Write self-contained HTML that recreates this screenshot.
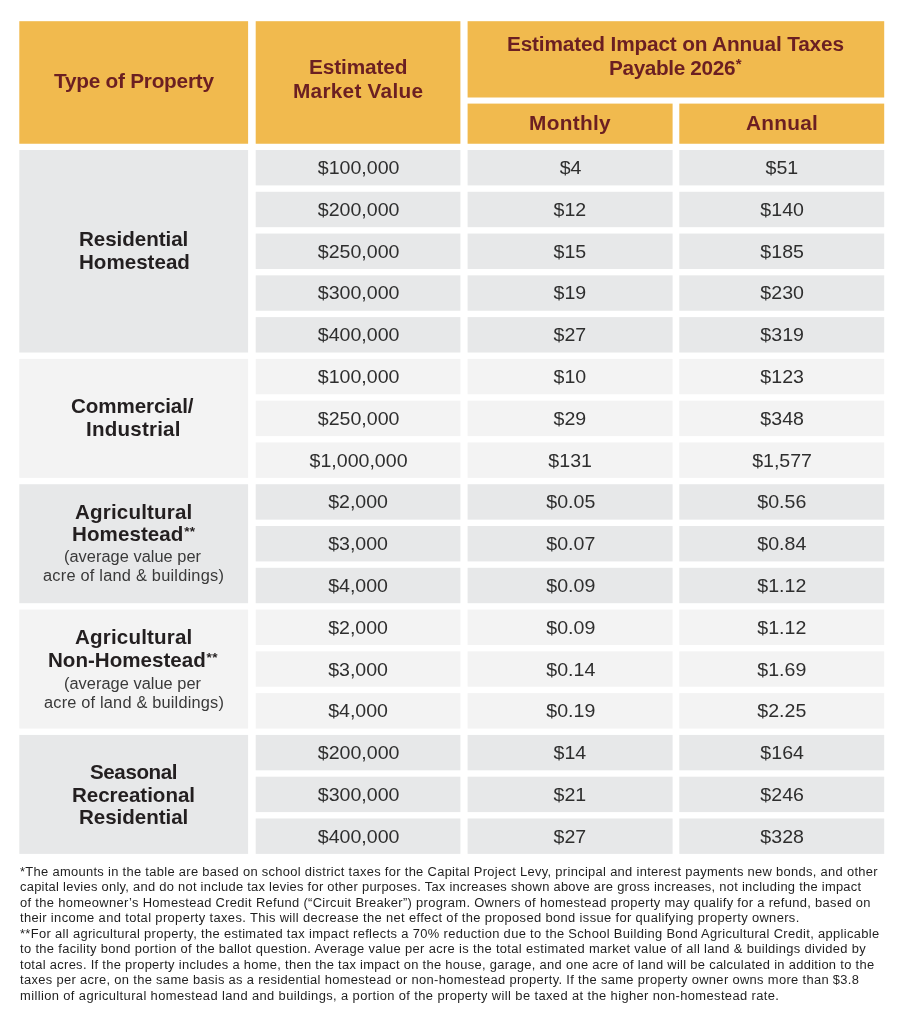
<!DOCTYPE html>
<html lang="en"><head><meta charset="utf-8"><title>Estimated Tax Impact</title>
<style>
html,body{margin:0;padding:0;background:#fff;}
body{width:902px;height:1024px;position:relative;overflow:hidden;font-family:"Liberation Sans",sans-serif;color:#2b2b2b;}
.c{position:absolute;display:flex;align-items:center;justify-content:center;text-align:center;box-sizing:border-box;}
.d{font-size:19px;letter-spacing:0px;padding-left:0.4px;padding-top:0.9px;color:#2e2e2e;}
.t{position:absolute;white-space:nowrap;line-height:24px;height:24px;transform-origin:0 50%;}
.hb,.gb{transform:scaleX(1.04);}
.gs,.f{transform:scaleX(1.05);}
.d span{display:inline-block;transform:scaleX(1.03);}
.hb{color:#6b1f22;font-weight:bold;font-size:20.0px;}
.gb{color:#231f20;font-weight:bold;font-size:19.8px;}
.gs{color:#3a3a3a;font-size:15.6px;}
sup{font-size:66%;line-height:0;vertical-align:baseline;position:relative;top:-0.36em;letter-spacing:0.4px;margin-left:0.7px;}
.hb sup{font-size:72%;top:-0.42em;}
.f{position:absolute;left:19.7px;white-space:nowrap;transform-origin:0 50%;font-size:12.3px;line-height:16px;height:16px;color:#1f1f1f;}
</style></head><body>

<svg width="902" height="1024" viewBox="0 0 902 1024" style="position:absolute;left:0;top:0" aria-hidden="true"><rect x="19.30" y="21.20" width="228.80" height="122.55" fill="#f1ba4e"/><rect x="255.70" y="21.20" width="204.70" height="122.55" fill="#f1ba4e"/><rect x="467.60" y="21.20" width="416.60" height="76.30" fill="#f1ba4e"/><rect x="467.60" y="103.60" width="205.00" height="40.15" fill="#f1ba4e"/><rect x="679.30" y="103.60" width="204.90" height="40.15" fill="#f1ba4e"/><rect x="19.30" y="150.00" width="228.80" height="202.52" fill="#e7e8e9"/><rect x="255.70" y="150.00" width="204.70" height="35.40" fill="#e7e8e9"/><rect x="467.60" y="150.00" width="205.00" height="35.40" fill="#e7e8e9"/><rect x="679.30" y="150.00" width="204.90" height="35.40" fill="#e7e8e9"/><rect x="255.70" y="191.78" width="204.70" height="35.40" fill="#e7e8e9"/><rect x="467.60" y="191.78" width="205.00" height="35.40" fill="#e7e8e9"/><rect x="679.30" y="191.78" width="204.90" height="35.40" fill="#e7e8e9"/><rect x="255.70" y="233.56" width="204.70" height="35.40" fill="#e7e8e9"/><rect x="467.60" y="233.56" width="205.00" height="35.40" fill="#e7e8e9"/><rect x="679.30" y="233.56" width="204.90" height="35.40" fill="#e7e8e9"/><rect x="255.70" y="275.34" width="204.70" height="35.40" fill="#e7e8e9"/><rect x="467.60" y="275.34" width="205.00" height="35.40" fill="#e7e8e9"/><rect x="679.30" y="275.34" width="204.90" height="35.40" fill="#e7e8e9"/><rect x="255.70" y="317.12" width="204.70" height="35.40" fill="#e7e8e9"/><rect x="467.60" y="317.12" width="205.00" height="35.40" fill="#e7e8e9"/><rect x="679.30" y="317.12" width="204.90" height="35.40" fill="#e7e8e9"/><rect x="19.30" y="358.90" width="228.80" height="118.96" fill="#f3f3f3"/><rect x="255.70" y="358.90" width="204.70" height="35.40" fill="#f3f3f3"/><rect x="467.60" y="358.90" width="205.00" height="35.40" fill="#f3f3f3"/><rect x="679.30" y="358.90" width="204.90" height="35.40" fill="#f3f3f3"/><rect x="255.70" y="400.68" width="204.70" height="35.40" fill="#f3f3f3"/><rect x="467.60" y="400.68" width="205.00" height="35.40" fill="#f3f3f3"/><rect x="679.30" y="400.68" width="204.90" height="35.40" fill="#f3f3f3"/><rect x="255.70" y="442.46" width="204.70" height="35.40" fill="#f3f3f3"/><rect x="467.60" y="442.46" width="205.00" height="35.40" fill="#f3f3f3"/><rect x="679.30" y="442.46" width="204.90" height="35.40" fill="#f3f3f3"/><rect x="19.30" y="484.24" width="228.80" height="118.96" fill="#e7e8e9"/><rect x="255.70" y="484.24" width="204.70" height="35.40" fill="#e7e8e9"/><rect x="467.60" y="484.24" width="205.00" height="35.40" fill="#e7e8e9"/><rect x="679.30" y="484.24" width="204.90" height="35.40" fill="#e7e8e9"/><rect x="255.70" y="526.02" width="204.70" height="35.40" fill="#e7e8e9"/><rect x="467.60" y="526.02" width="205.00" height="35.40" fill="#e7e8e9"/><rect x="679.30" y="526.02" width="204.90" height="35.40" fill="#e7e8e9"/><rect x="255.70" y="567.80" width="204.70" height="35.40" fill="#e7e8e9"/><rect x="467.60" y="567.80" width="205.00" height="35.40" fill="#e7e8e9"/><rect x="679.30" y="567.80" width="204.90" height="35.40" fill="#e7e8e9"/><rect x="19.30" y="609.58" width="228.80" height="118.96" fill="#f3f3f3"/><rect x="255.70" y="609.58" width="204.70" height="35.40" fill="#f3f3f3"/><rect x="467.60" y="609.58" width="205.00" height="35.40" fill="#f3f3f3"/><rect x="679.30" y="609.58" width="204.90" height="35.40" fill="#f3f3f3"/><rect x="255.70" y="651.36" width="204.70" height="35.40" fill="#f3f3f3"/><rect x="467.60" y="651.36" width="205.00" height="35.40" fill="#f3f3f3"/><rect x="679.30" y="651.36" width="204.90" height="35.40" fill="#f3f3f3"/><rect x="255.70" y="693.14" width="204.70" height="35.40" fill="#f3f3f3"/><rect x="467.60" y="693.14" width="205.00" height="35.40" fill="#f3f3f3"/><rect x="679.30" y="693.14" width="204.90" height="35.40" fill="#f3f3f3"/><rect x="19.30" y="734.92" width="228.80" height="118.96" fill="#e7e8e9"/><rect x="255.70" y="734.92" width="204.70" height="35.40" fill="#e7e8e9"/><rect x="467.60" y="734.92" width="205.00" height="35.40" fill="#e7e8e9"/><rect x="679.30" y="734.92" width="204.90" height="35.40" fill="#e7e8e9"/><rect x="255.70" y="776.70" width="204.70" height="35.40" fill="#e7e8e9"/><rect x="467.60" y="776.70" width="205.00" height="35.40" fill="#e7e8e9"/><rect x="679.30" y="776.70" width="204.90" height="35.40" fill="#e7e8e9"/><rect x="255.70" y="818.48" width="204.70" height="35.40" fill="#e7e8e9"/><rect x="467.60" y="818.48" width="205.00" height="35.40" fill="#e7e8e9"/><rect x="679.30" y="818.48" width="204.90" height="35.40" fill="#e7e8e9"/></svg>
<div class="c h" style="left:19.30px;top:21.20px;width:228.80px;height:122.55px"></div>
<div class="c h" style="left:255.70px;top:21.20px;width:204.70px;height:122.55px"></div>
<div class="c h" style="left:467.60px;top:21.20px;width:416.60px;height:76.30px"></div>
<div class="c h" style="left:467.60px;top:103.60px;width:205.00px;height:40.15px"></div>
<div class="c h" style="left:679.30px;top:103.60px;width:204.90px;height:40.15px"></div>
<div class="c g" style="left:19.30px;top:150.00px;width:228.80px;height:202.52px"></div>
<div class="c d" style="left:255.70px;top:150.00px;width:204.70px;height:35.40px"><span>$100,000</span></div>
<div class="c d" style="left:467.60px;top:150.00px;width:205.00px;height:35.40px"><span>$4</span></div>
<div class="c d" style="left:679.30px;top:150.00px;width:204.90px;height:35.40px"><span>$51</span></div>
<div class="c d" style="left:255.70px;top:191.78px;width:204.70px;height:35.40px"><span>$200,000</span></div>
<div class="c d" style="left:467.60px;top:191.78px;width:205.00px;height:35.40px"><span>$12</span></div>
<div class="c d" style="left:679.30px;top:191.78px;width:204.90px;height:35.40px"><span>$140</span></div>
<div class="c d" style="left:255.70px;top:233.56px;width:204.70px;height:35.40px"><span>$250,000</span></div>
<div class="c d" style="left:467.60px;top:233.56px;width:205.00px;height:35.40px"><span>$15</span></div>
<div class="c d" style="left:679.30px;top:233.56px;width:204.90px;height:35.40px"><span>$185</span></div>
<div class="c d" style="left:255.70px;top:275.34px;width:204.70px;height:35.40px"><span>$300,000</span></div>
<div class="c d" style="left:467.60px;top:275.34px;width:205.00px;height:35.40px"><span>$19</span></div>
<div class="c d" style="left:679.30px;top:275.34px;width:204.90px;height:35.40px"><span>$230</span></div>
<div class="c d" style="left:255.70px;top:317.12px;width:204.70px;height:35.40px"><span>$400,000</span></div>
<div class="c d" style="left:467.60px;top:317.12px;width:205.00px;height:35.40px"><span>$27</span></div>
<div class="c d" style="left:679.30px;top:317.12px;width:204.90px;height:35.40px"><span>$319</span></div>
<div class="c g" style="left:19.30px;top:358.90px;width:228.80px;height:118.96px"></div>
<div class="c d" style="left:255.70px;top:358.90px;width:204.70px;height:35.40px"><span>$100,000</span></div>
<div class="c d" style="left:467.60px;top:358.90px;width:205.00px;height:35.40px"><span>$10</span></div>
<div class="c d" style="left:679.30px;top:358.90px;width:204.90px;height:35.40px"><span>$123</span></div>
<div class="c d" style="left:255.70px;top:400.68px;width:204.70px;height:35.40px"><span>$250,000</span></div>
<div class="c d" style="left:467.60px;top:400.68px;width:205.00px;height:35.40px"><span>$29</span></div>
<div class="c d" style="left:679.30px;top:400.68px;width:204.90px;height:35.40px"><span>$348</span></div>
<div class="c d" style="left:255.70px;top:442.46px;width:204.70px;height:35.40px"><span>$1,000,000</span></div>
<div class="c d" style="left:467.60px;top:442.46px;width:205.00px;height:35.40px"><span>$131</span></div>
<div class="c d" style="left:679.30px;top:442.46px;width:204.90px;height:35.40px"><span>$1,577</span></div>
<div class="c g" style="left:19.30px;top:484.24px;width:228.80px;height:118.96px"></div>
<div class="c d" style="left:255.70px;top:484.24px;width:204.70px;height:35.40px"><span>$2,000</span></div>
<div class="c d" style="left:467.60px;top:484.24px;width:205.00px;height:35.40px"><span>$0.05</span></div>
<div class="c d" style="left:679.30px;top:484.24px;width:204.90px;height:35.40px"><span>$0.56</span></div>
<div class="c d" style="left:255.70px;top:526.02px;width:204.70px;height:35.40px"><span>$3,000</span></div>
<div class="c d" style="left:467.60px;top:526.02px;width:205.00px;height:35.40px"><span>$0.07</span></div>
<div class="c d" style="left:679.30px;top:526.02px;width:204.90px;height:35.40px"><span>$0.84</span></div>
<div class="c d" style="left:255.70px;top:567.80px;width:204.70px;height:35.40px"><span>$4,000</span></div>
<div class="c d" style="left:467.60px;top:567.80px;width:205.00px;height:35.40px"><span>$0.09</span></div>
<div class="c d" style="left:679.30px;top:567.80px;width:204.90px;height:35.40px"><span>$1.12</span></div>
<div class="c g" style="left:19.30px;top:609.58px;width:228.80px;height:118.96px"></div>
<div class="c d" style="left:255.70px;top:609.58px;width:204.70px;height:35.40px"><span>$2,000</span></div>
<div class="c d" style="left:467.60px;top:609.58px;width:205.00px;height:35.40px"><span>$0.09</span></div>
<div class="c d" style="left:679.30px;top:609.58px;width:204.90px;height:35.40px"><span>$1.12</span></div>
<div class="c d" style="left:255.70px;top:651.36px;width:204.70px;height:35.40px"><span>$3,000</span></div>
<div class="c d" style="left:467.60px;top:651.36px;width:205.00px;height:35.40px"><span>$0.14</span></div>
<div class="c d" style="left:679.30px;top:651.36px;width:204.90px;height:35.40px"><span>$1.69</span></div>
<div class="c d" style="left:255.70px;top:693.14px;width:204.70px;height:35.40px"><span>$4,000</span></div>
<div class="c d" style="left:467.60px;top:693.14px;width:205.00px;height:35.40px"><span>$0.19</span></div>
<div class="c d" style="left:679.30px;top:693.14px;width:204.90px;height:35.40px"><span>$2.25</span></div>
<div class="c g" style="left:19.30px;top:734.92px;width:228.80px;height:118.96px"></div>
<div class="c d" style="left:255.70px;top:734.92px;width:204.70px;height:35.40px"><span>$200,000</span></div>
<div class="c d" style="left:467.60px;top:734.92px;width:205.00px;height:35.40px"><span>$14</span></div>
<div class="c d" style="left:679.30px;top:734.92px;width:204.90px;height:35.40px"><span>$164</span></div>
<div class="c d" style="left:255.70px;top:776.70px;width:204.70px;height:35.40px"><span>$300,000</span></div>
<div class="c d" style="left:467.60px;top:776.70px;width:205.00px;height:35.40px"><span>$21</span></div>
<div class="c d" style="left:679.30px;top:776.70px;width:204.90px;height:35.40px"><span>$246</span></div>
<div class="c d" style="left:255.70px;top:818.48px;width:204.70px;height:35.40px"><span>$400,000</span></div>
<div class="c d" style="left:467.60px;top:818.48px;width:205.00px;height:35.40px"><span>$27</span></div>
<div class="c d" style="left:679.30px;top:818.48px;width:204.90px;height:35.40px"><span>$328</span></div>
<div class="t hb" id="h1" style="left:54.00px;top:68.70px;letter-spacing:-0.240px">Type of Property</div>
<div class="t hb" id="h2a" style="left:308.70px;top:55.30px;letter-spacing:-0.112px">Estimated</div>
<div class="t hb" id="h2b" style="left:293.30px;top:78.50px;letter-spacing:0.245px">Market Value</div>
<div class="t hb" id="h3a" style="left:507.40px;top:32.20px;letter-spacing:-0.160px">Estimated Impact on Annual Taxes</div>
<div class="t hb" id="h3b" style="left:609.10px;top:55.60px;letter-spacing:-0.368px">Payable 2026<sup>*</sup></div>
<div class="t hb" id="h4" style="left:529.10px;top:111.20px;letter-spacing:0.300px">Monthly</div>
<div class="t hb" id="h5" style="left:745.60px;top:111.00px;letter-spacing:0.270px">Annual</div>
<div class="t gb" id="g0a" style="left:79.00px;top:227.10px;letter-spacing:-0.045px">Residential</div>
<div class="t gb" id="g0b" style="left:79.40px;top:250.40px;letter-spacing:-0.000px">Homestead</div>
<div class="t gb" id="g1a" style="left:71.10px;top:393.80px;letter-spacing:-0.090px">Commercial/</div>
<div class="t gb" id="g1b" style="left:86.10px;top:416.90px;letter-spacing:0.200px">Industrial</div>
<div class="t gb" id="g2a" style="left:75.20px;top:500.00px;letter-spacing:0.164px">Agricultural</div>
<div class="t gb" id="g2b" style="left:71.60px;top:522.20px;letter-spacing:0.056px">Homestead<sup>**</sup></div>
<div class="t gs" id="g2c" style="left:64.40px;top:545.40px;letter-spacing:0.026px">(average value per</div>
<div class="t gs" id="g2d" style="left:43.40px;top:563.80px;letter-spacing:0.206px">acre of land &amp; buildings)</div>
<div class="t gb" id="g3a" style="left:75.20px;top:625.00px;letter-spacing:0.164px">Agricultural</div>
<div class="t gb" id="g3b" style="left:47.80px;top:647.70px;letter-spacing:0.000px">Non-Homestead<sup>**</sup></div>
<div class="t gs" id="g3c" style="left:64.40px;top:672.00px;letter-spacing:0.026px">(average value per</div>
<div class="t gs" id="g3d" style="left:44.30px;top:690.90px;letter-spacing:0.169px">acre of land &amp; buildings)</div>
<div class="t gb" id="g4a" style="left:90.20px;top:759.60px;letter-spacing:-0.386px">Seasonal</div>
<div class="t gb" id="g4b" style="left:71.80px;top:782.50px;letter-spacing:-0.041px">Recreational</div>
<div class="t gb" id="g4c" style="left:78.90px;top:805.40px;letter-spacing:-0.045px">Residential</div>
<div class="f" style="top:863.90px;letter-spacing:0.295px">*The amounts in the table are based on school district taxes for the Capital Project Levy, principal and interest payments new bonds, and other</div>
<div class="f" style="top:879.40px;letter-spacing:0.255px">capital levies only, and do not include tax levies for other purposes. Tax increases shown above are gross increases, not including the impact</div>
<div class="f" style="top:894.90px;letter-spacing:0.310px">of the homeowner’s Homestead Credit Refund (“Circuit Breaker”) program. Owners of homestead property may qualify for a refund, based on</div>
<div class="f" style="top:910.40px;letter-spacing:0.344px">their income and total property taxes. This will decrease the net effect of the proposed bond issue for qualifying property owners.</div>
<div class="f" style="top:925.90px;letter-spacing:0.323px">**For all agricultural property, the estimated tax impact reflects a 70% reduction due to the School Building Bond Agricultural Credit, applicable</div>
<div class="f" style="top:941.40px;letter-spacing:0.324px">to the facility bond portion of the ballot question. Average value per acre is the total estimated market value of all land &amp; buildings divided by</div>
<div class="f" style="top:956.90px;letter-spacing:0.287px">total acres. If the property includes a home, then the tax impact on the house, garage, and one acre of land will be calculated in addition to the</div>
<div class="f" style="top:972.40px;letter-spacing:0.315px">taxes per acre, on the same basis as a residential homestead or non-homestead property. If the same property owner owns more than $3.8</div>
<div class="f" style="top:987.90px;letter-spacing:0.371px">million of agricultural homestead land and buildings, a portion of the property will be taxed at the higher non-homestead rate.</div>
</body></html>
